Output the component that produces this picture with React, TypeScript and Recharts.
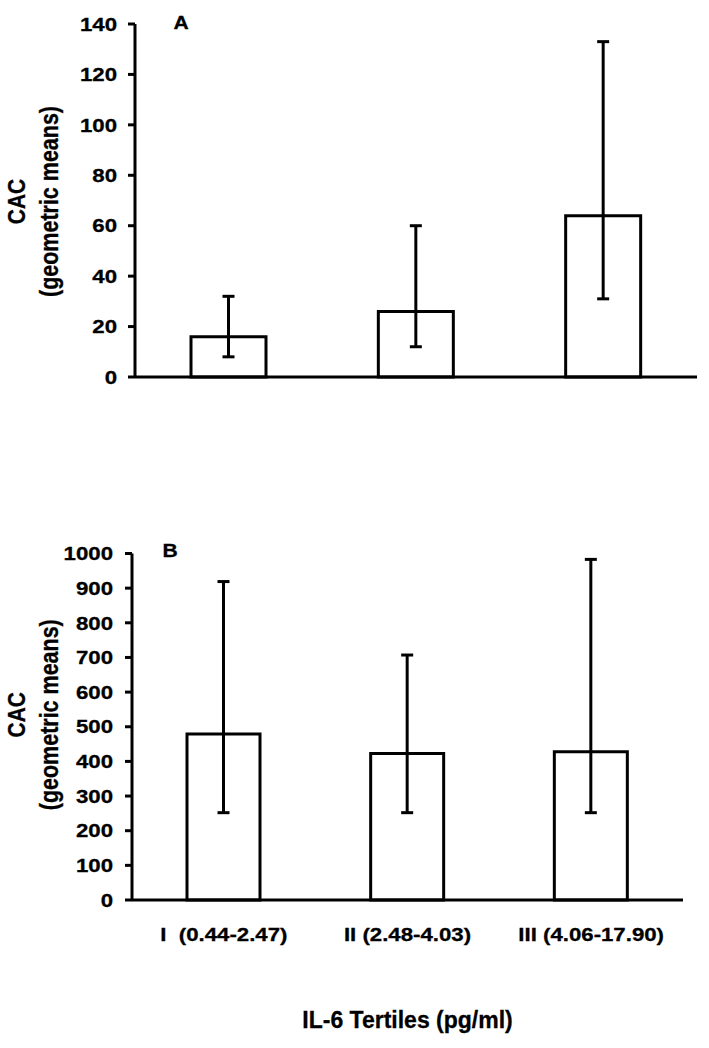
import { Bar, BarChart, ErrorBar, Label, XAxis, YAxis } from 'recharts'

const FONT = '"Liberation Sans", Arial, sans-serif'
const STRETCH = 1.17 // the source figure's lettering is drawn a bit wide

const TERTILES = ['I\u00a0\u00a0(0.44-2.47)', 'II (2.48-4.03)', 'III (4.06-17.90)']

// panel A
const CAC_A      = [16, 26, 64]
const CAC_A_LOW  = [8, 12, 31]
const CAC_A_HIGH = [32, 60, 133]
const TICKS_A    = [0, 20, 40, 60, 80, 100, 120, 140]

// panel B
const CAC_B      = [479, 423, 428]
const CAC_B_LOW  = [252, 252, 252]
const CAC_B_HIGH = [919, 707, 983]
const TICKS_B    = [0, 100, 200, 300, 400, 500, 600, 700, 800, 900, 1000]

const buildRows = (vals: number[], low: number[], high: number[]) =>
  TERTILES.map((name, i) => ({
    name,
    value: vals[i],
    err: [vals[i] - low[i], high[i] - vals[i]],
  }))

const rowsA = buildRows(CAC_A, CAC_A_LOW, CAC_A_HIGH)
const rowsB = buildRows(CAC_B, CAC_B_LOW, CAC_B_HIGH)

const axisLine = { stroke: '#000', strokeWidth: 3 }

function WideTick(props: any) {
  const { x, y, payload, textAnchor, verticalAnchor } = props
  const dy = verticalAnchor === 'start' ? '0.71em' : '0.355em'
  return (
    <text
      transform={`translate(${x},${y}) scale(${STRETCH},1)`}
      textAnchor={textAnchor}
      dy={dy}
      fontFamily={FONT}
      fontWeight="bold"
      fontSize={19}
      fill="#000"
      stroke="#000"
      strokeWidth={0.3}
    >
      {payload.value}
    </text>
  )
}

function PanelLabel(props: any) {
  const { viewBox, letter, letterDx, letterDy, dy } = props
  const { x, y, width, height } = viewBox
  const cy = y + height / 2 + dy
  return (
    <g fontFamily={FONT} fontWeight="bold" fill="#000" stroke="#000" strokeWidth={0.3}>
      <text
        transform={`translate(${x + 25},${cy}) rotate(-90) scale(1,${STRETCH})`}
        textAnchor="middle"
        fontSize={21}
      >
        CAC
      </text>
      <text
        transform={`translate(${x + 58},${cy}) rotate(-90) scale(1,${STRETCH})`}
        textAnchor="middle"
        fontSize={21.5}
      >
        (geometric means)
      </text>
      <text
        transform={`translate(${x + width + letterDx},${y + letterDy}) scale(${STRETCH},1)`}
        textAnchor="middle"
        fontSize={18}
      >
        {letter}
      </text>
    </g>
  )
}

function XTitle(props: any) {
  const { x, y, width } = props.viewBox
  return (
    <text
      x={x + width / 2}
      y={y + 128}
      textAnchor="middle"
      fontFamily={FONT}
      fontWeight="bold"
      fontSize={23}
      fill="#000"
      stroke="#000"
      strokeWidth={0.3}
    >
      IL-6 Tertiles (pg/ml)
    </text>
  )
}

export default function App() {
  return (
    <div style={{ position: 'absolute', left: 0, top: 0, width: 709, height: 1048, background: '#fff' }}>
      {/* Panel A */}
      <div style={{ position: 'absolute', left: 0, top: 0 }}>
        <BarChart width={709} height={397} data={rowsA} margin={{ top: 24, right: 12, left: 0, bottom: 0 }}>
          <XAxis dataKey="name" height={20} tick={false} tickLine={false} axisLine={axisLine} />
          <YAxis
            width={135}
            domain={[0, 140]}
            ticks={TICKS_A}
            interval={0}
            tickSize={7}
            tickMargin={11}
            axisLine={axisLine}
            tickLine={axisLine}
            tick={<WideTick />}
          >
            <Label content={(p: any) => <PanelLabel {...p} letter="A" letterDx={46} letterDy={5} dy={1} />} />
          </YAxis>
          <Bar dataKey="value" fill="#fff" stroke="#000" strokeWidth={3} barSize={75} isAnimationActive={false}>
            <ErrorBar dataKey="err" direction="y" width={6} stroke="#000" strokeWidth={3} />
          </Bar>
        </BarChart>
      </div>

      {/* Panel B */}
      <div style={{ position: 'absolute', left: 0, top: 500 }}>
        <BarChart width={709} height={548} data={rowsB} margin={{ top: 53.5, right: 26, left: 0, bottom: 0 }}>
          <XAxis
            dataKey="name"
            height={148}
            interval={0}
            tickLine={false}
            tickSize={0}
            tickMargin={28}
            axisLine={axisLine}
            tick={<WideTick />}
          >
            <Label content={(p: any) => <XTitle {...p} />} />
          </XAxis>
          <YAxis
            width={132}
            domain={[0, 1000]}
            ticks={TICKS_B}
            interval={0}
            tickSize={7}
            tickMargin={12}
            axisLine={axisLine}
            tickLine={axisLine}
            tick={<WideTick />}
          >
            <Label content={(p: any) => <PanelLabel {...p} letter="B" letterDx={38} letterDy={3.5} dy={-12} />} />
          </YAxis>
          <Bar dataKey="value" fill="#fff" stroke="#000" strokeWidth={3} barSize={73} isAnimationActive={false}>
            <ErrorBar dataKey="err" direction="y" width={6} stroke="#000" strokeWidth={3} />
          </Bar>
        </BarChart>
      </div>
    </div>
  )
}
